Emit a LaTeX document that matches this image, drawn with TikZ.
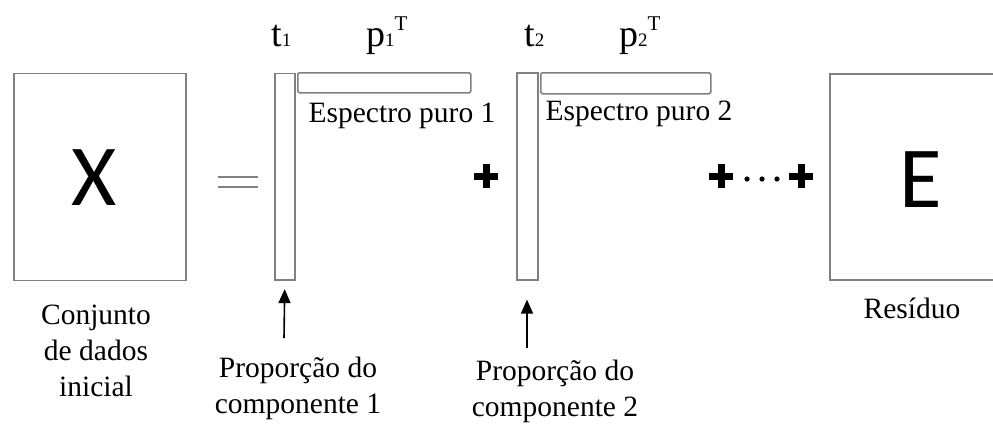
\documentclass[tikz,border=0pt]{standalone}
\usepackage{fontspec}
\setmainfont{Liberation Serif}
\newfontfamily\boxfont{Carlito}
\usetikzlibrary{arrows.meta}
\definecolor{edgegray}{RGB}{128,128,128}
\tikzset{
  bigplus/.pic={\draw[line width=7pt] (-12,0) -- (12,0) (0,-12) -- (0,12);}
}
\begin{document}
\begin{tikzpicture}[x=1pt,y=-1pt,
  matbox/.style={draw=edgegray, line width=1.6pt, inner sep=0pt, anchor=north west},
  lbl/.style={font=\fontsize{29.5}{36}\selectfont, inner sep=0pt, align=center},
  sym/.style={font=\fontsize{38}{38}\selectfont, inner sep=0pt, anchor=base west},
  big/.style={font=\boxfont\fontsize{87}{87}\selectfont, inner sep=0pt, anchor=base},
  arr/.style={-{Triangle[width=12pt,length=14pt]}, line width=1.6pt},
  eqline/.style={draw=edgegray, line width=2pt},
  dotmark/.style={circle, fill, inner sep=0pt, minimum size=5.2pt},
]
\useasboundingbox (0,0) rectangle (993,423);

% matrices
\node[matbox, minimum width=172pt, minimum height=207pt] (Xbox) at (13,72.5) {};
\node[matbox, minimum width=20pt, minimum height=206.5pt] (t1bar) at (274,72.5) {};
\node[matbox, rounded corners=1.5pt, minimum width=173pt, minimum height=20pt] (p1bar) at (297,72) {};
\node[matbox, minimum width=21pt, minimum height=207pt] (t2bar) at (516,72) {};
\node[matbox, rounded corners=1.5pt, minimum width=170pt, minimum height=21pt] (p2bar) at (540,72) {};
\node[matbox, minimum width=180pt, minimum height=206pt] (Ebox) at (829,73) {};

% big letters
\node[big] (Xtxt) at (94,205) {X};
\node[big] (Etxt) at (921,207) {E};

% top symbols
\node[sym] (t1lbl) at (271,46) {t{\fontsize{19}{19}\selectfont 1}};
\node[sym] (p1lbl) at (366,46) {p{\fontsize{19}{19}\selectfont 1}\raisebox{16pt}{\fontsize{21}{21}\selectfont T}};
\node[sym] (t2lbl) at (524,46) {t{\fontsize{19}{19}\selectfont 2}};
\node[sym] (p2lbl) at (619,46) {p{\fontsize{19}{19}\selectfont 2}\raisebox{16pt}{\fontsize{21}{21}\selectfont T}};

% labels
\node[lbl, anchor=base] (esp1) at (402,122) {Espectro puro 1};
\node[lbl, anchor=base] (esp2) at (639,120) {Espectro puro 2};
\node[lbl, anchor=base] (resid) at (912,318) {Resíduo};
\node[lbl, anchor=north] (conj) at (96,305) {Conjunto\\de dados\\inicial};
\node[lbl, anchor=north] (prop1) at (298,357) {Proporção do\\componente 1};
\node[lbl, anchor=north] (prop2) at (555,360) {Proporção do\\componente 2};

% equals sign
\coordinate (eqL1) at (218,177); \coordinate (eqR1) at (258,177);
\coordinate (eqL2) at (218,187); \coordinate (eqR2) at (258,187);
\draw[eqline] (eqL1) -- (eqR1);
\draw[eqline] (eqL2) -- (eqR2);

% plus signs and dots
\pic (plusA) at (486,176) {bigplus};
\pic (plusB) at (721,176) {bigplus};
\pic (plusC) at (801,176) {bigplus};
\node[dotmark] (d1) at (747,179) {};
\node[dotmark] (d2) at (762,179) {};
\node[dotmark] (d3) at (777,179) {};

% arrows
\coordinate (a1) at (284,338);
\coordinate (a2) at (527,348);
\draw[arr, shorten >=8.5pt] (a1) -- (t1bar.south);
\draw[arr, shorten >=19pt] (a2) -- (a2 |- t2bar.south);
\end{tikzpicture}
\end{document}
